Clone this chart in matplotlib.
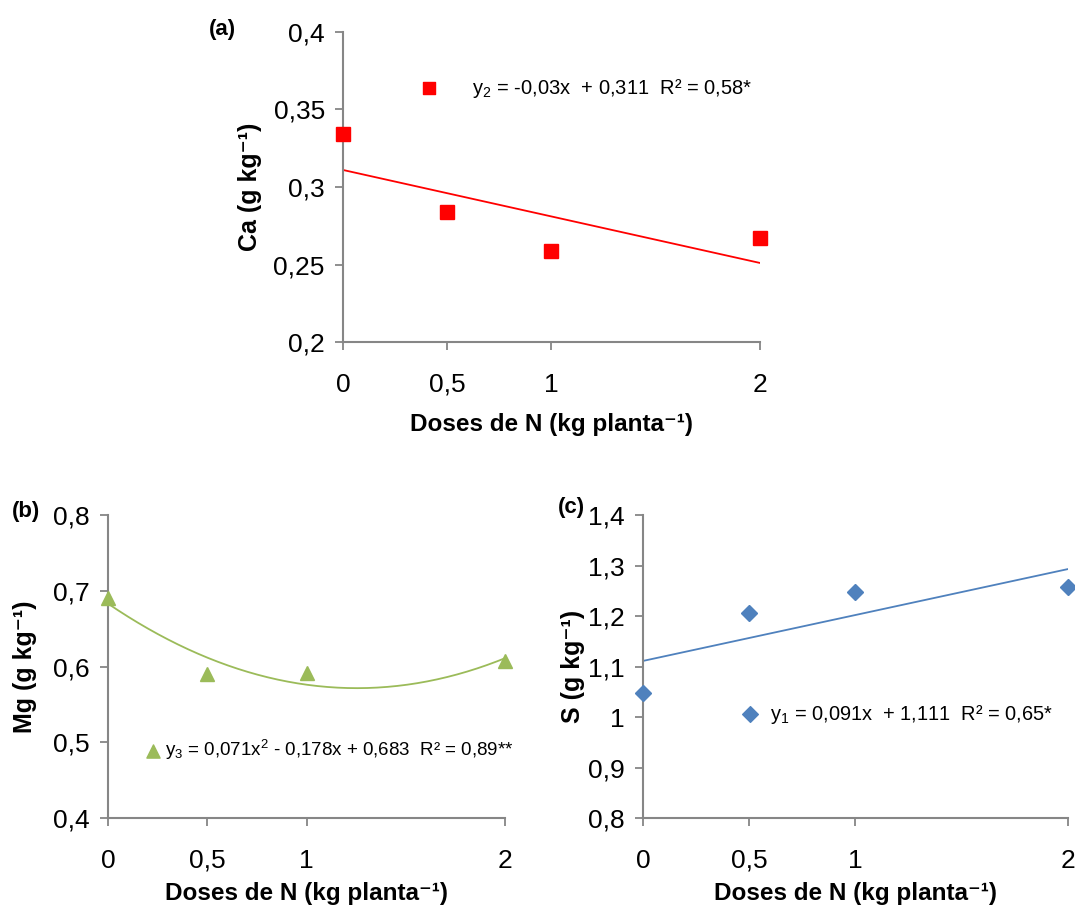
import matplotlib
matplotlib.use('Agg')
import matplotlib.pyplot as plt
import numpy as np

plt.rcParams['font.family'] = ['Liberation Sans', 'DejaVu Sans']
plt.rcParams['mathtext.fontset'] = 'custom'
plt.rcParams['mathtext.rm'] = 'Liberation Sans'
plt.rcParams['mathtext.bf'] = 'Liberation Sans:bold'
plt.rcParams['mathtext.it'] = 'Liberation Sans:italic'

doses = [0, 0.5, 1, 2]
ca = [0.334, 0.284, 0.259, 0.267]
mg = [0.690, 0.590, 0.591, 0.607]
s = [1.048, 1.205, 1.248, 1.257]

ca_coef = [-0.03, 0.311]
mg_coef = [0.071, -0.178, 0.683]
s_coef = [0.091, 1.111]

xtick_labels = ['0', '0,5', '1', '2']
xlabel = 'Doses de N (kg planta⁻¹)'
spine_color = '#868686'

fig = plt.figure(figsize=(10.75, 9.08), dpi=100)


def style_axis(ax, ylim, yticks, ylabels, ylabel, ylab_x, xlab_pad, panel, panel_xy):
    ax.set_xlim(0, 2)
    ax.set_ylim(*ylim)
    ax.set_xticks([0, 0.5, 1, 2])
    ax.set_xticklabels(xtick_labels)
    ax.set_yticks(yticks)
    ax.set_yticklabels(ylabels)
    for side in ['top', 'right']:
        ax.spines[side].set_visible(False)
    for side in ['left', 'bottom']:
        ax.spines[side].set_color(spine_color)
        ax.spines[side].set_linewidth(1.5)
    ax.tick_params(axis='y', length=6, width=1.3, color=spine_color, labelsize=19, pad=7)
    ax.tick_params(axis='x', length=6, width=1.3, color=spine_color, labelsize=19, pad=16)
    ax.set_ylabel(ylabel, fontsize=18, fontweight='bold')
    ax.yaxis.set_label_coords(ylab_x, 0.5)
    ax.set_xlabel(xlabel, fontsize=17.5, fontweight='bold', labelpad=xlab_pad)
    fig.text(panel_xy[0], panel_xy[1], panel, fontsize=16, fontweight='bold',
             ha='center', va='center')


xs = np.linspace(0, 2, 200)

# (a) Ca
ax1 = fig.add_axes([0.319, 0.6233, 0.388, 0.3415])
ax1.plot(doses, ca, 's', color='#ff0000', markersize=10, clip_on=False, zorder=3)
ax1.plot(xs, np.polyval(ca_coef, xs), color='#ff0000', lw=1.3)
h1 = ax1.scatter([], [], marker='s', color='#ff0000', s=80)
ax1.legend([h1], ['y$_2$ = -0,03x  + 0,311  R² = 0,58*'], loc='center left',
           bbox_to_anchor=(0.158, 0.819), frameon=False, fontsize=14.5,
           handlelength=2.0, handletextpad=1.15, borderaxespad=0, borderpad=0)
style_axis(ax1, (0.2, 0.4), [0.2, 0.25, 0.3, 0.35, 0.4],
           ['0,2', '0,25', '0,3', '0,35', '0,4'], 'Ca (g kg⁻¹)', -0.194, 12,
           '(a)', (0.207, 0.967))

# (b) Mg
ax2 = fig.add_axes([0.1005, 0.0991, 0.3693, 0.3337])
ax2.plot(doses, mg, '^', color='#9bbb59', markersize=10, clip_on=False, zorder=3)
ax2.plot(xs, np.polyval(mg_coef, xs), color='#9bbb59', lw=1.3)
h2 = ax2.scatter([], [], marker='^', color='#9bbb59', s=90)
ax2.legend([h2], ['y$_3$ = 0,071x$^2$ - 0,178x + 0,683  R² = 0,89**'], loc='center left',
           bbox_to_anchor=(0.0897, 0.224), frameon=False, fontsize=13.5,
           handlelength=1.0, handletextpad=0.14, borderaxespad=0, borderpad=0)
style_axis(ax2, (0.4, 0.8), [0.4, 0.5, 0.6, 0.7, 0.8],
           ['0,4', '0,5', '0,6', '0,7', '0,8'], 'Mg (g kg⁻¹)', -0.179, 7,
           '(b)', (0.024, 0.437))

# (c) S
ax3 = fig.add_axes([0.598, 0.0991, 0.3955, 0.3337])
ax3.plot(doses, s, 'D', color='#4f81bd', markersize=8, clip_on=False, zorder=3)
ax3.plot(xs, np.polyval(s_coef, xs), color='#4f81bd', lw=1.3)
h3 = ax3.scatter([], [], marker='D', color='#4f81bd', s=64)
ax3.legend([h3], ['y$_1$ = 0,091x  + 1,111  R² = 0,65*'], loc='center left',
           bbox_to_anchor=(0.228, 0.343), frameon=False, fontsize=14.4,
           handlelength=1.0, handletextpad=0.5, borderaxespad=0, borderpad=0)
style_axis(ax3, (0.8, 1.4), [0.8, 0.9, 1.0, 1.1, 1.2, 1.3, 1.4],
           ['0,8', '0,9', '1', '1,1', '1,2', '1,3', '1,4'], 'S (g kg⁻¹)', -0.136, 7,
           '(c)', (0.532, 0.441))

fig.savefig('out.png', dpi=100)
